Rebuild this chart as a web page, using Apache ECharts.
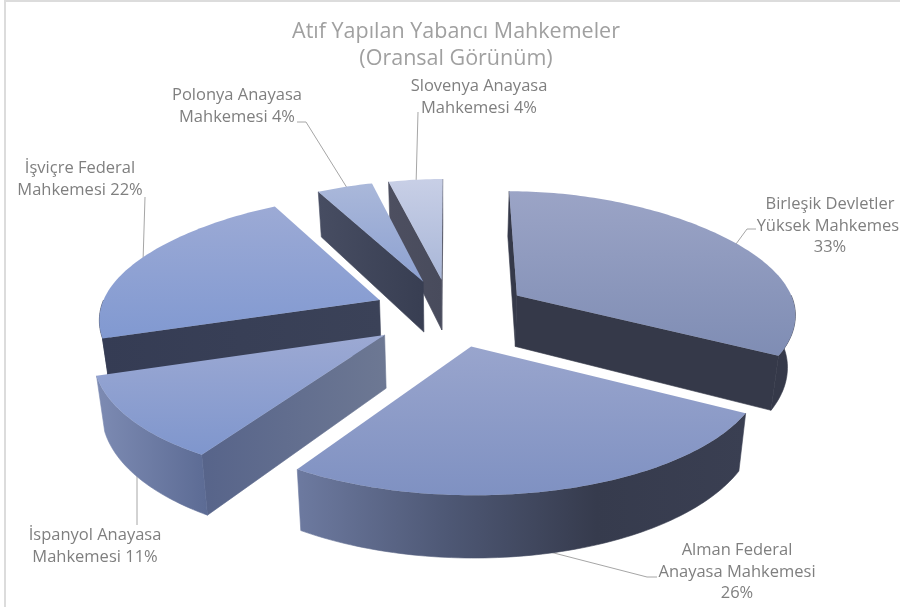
<!DOCTYPE html>
<html>
<head>
<meta charset="utf-8">
<title>Atıf Yapılan Yabancı Mahkemeler</title>
<style>
html, body { margin: 0; padding: 0; background: #fff; }
#one { width: 900px; height: 607px; }
</style>
<script src="https://cdn.jsdelivr.net/npm/echarts@6/dist/echarts.min.js"></script>
</head>
<body>
<div id="one"></div>
<script>
var courts = ['Birleşik Devletler Yüksek Mahkemesi', 'Alman Federal Anayasa Mahkemesi', 'İspanyol Anayasa Mahkemesi', 'İsviçre Federal Mahkemesi', 'Polonya Anayasa Mahkemesi', 'Slovenya Anayasa Mahkemesi'];
var shares = [33, 26, 11, 22, 4, 4];
var labelLines = [
    ['Birleşik Devletler', 'Yüksek Mahkemesi', '33%'],
    ['Alman Federal', 'Anayasa Mahkemesi', '26%'],
    ['İspanyol Anayasa', 'Mahkemesi 11%'],
    ['İşviçre Federal', 'Mahkemesi 22%'],
    ['Polonya Anayasa', 'Mahkemesi 4%'],
    ['Slovenya Anayasa', 'Mahkemesi 4%']
];

// projection of the tilted pie
var cx = 451, cy = 312.5, R = 280, thick = 52;
var explode = [78, 78, 82, 78, 78, 78];
var horizon = 908, persp = 0.135, backNarrow = 3.6, frontFlat = 173, bottomShrink = 0.977;

// label centres and leader lines, same order as courts
var labelPos = [[830, 204.5], [737, 550.5], [95, 535.5], [80, 168.5], [237, 95.5], [479, 86.5]];
var leaders = [
    [[736, 244], [747, 229], [756, 229]],
    [[550, 552], [647, 577], [657, 577]],
    [[137, 470], [137, 525]],
    [[143, 262], [145, 197]],
    [[349, 191], [306, 122], [297, 122]],
    [[416, 186], [418, 112]]
];

// colours: top face, radial wall, rim wall
var topColors = [
    ['#9ba4c6', '#7f8db4'], ['#99a5cd', '#7f91c2'], ['#9ca9d3', '#7f96cd'],
    ['#9caad5', '#8199d1'], ['#aab8da', '#8da1d1'], ['#c8cfe6', '#a9b7d8']
];
var wallColors = [
    ['#353949', '#353949'], ['#4a5470', '#4a5470'], ['#57648a', '#6d7893'],
    ['#353c54', '#3b4258'], ['#474d62', '#383e52'], ['#4d4f60', '#484b5c']
];
var rimColors = [
    ['#353949', '#353949'], ['#6d7aa0', '#4e5875', '#363b4d', '#3a3f52'], ['#7d8bb3', '#5c6b94'],
    ['#353c54', '#353c54'], ['#4a5068', '#4a5068'], ['#4d4f60', '#4d4f60']
];

var total = shares.reduce(function (a, b) { return a + b; }, 0);

function sliceAngles(idx) {
    var before = 0;
    for (var i = 0; i < idx; i++) before += shares[i];
    return [before / total * Math.PI * 2, (before + shares[idx]) / total * Math.PI * 2];
}

// r, a polar on the pie plate, level 0 = top face, 1 = bottom face
function project(idx, r, a, mid, level) {
    var ex = explode[idx] * Math.sin(mid);
    var back = r * Math.cos(a) + explode[idx] * Math.cos(mid);
    var w = 1 + back / R * persp;
    var t = w - 1;
    var rx = r * Math.sin(a);
    var sx = (ex + (t > 0 ? rx / (1 + backNarrow * t * t) : rx)) / w;
    var sy = cy + horizon * (1 / w - 1) - (t < 0 ? frontFlat * t * t : 0);
    if (level) {
        sx = sx * bottomShrink;
        sy = sy + thick / w;
    }
    return [cx + sx, sy];
}

function arcPoints(idx, a0, a1, mid, level) {
    var pts = [];
    var n = Math.max(2, Math.ceil((a1 - a0) / 0.02));
    for (var i = 0; i <= n; i++) {
        pts.push(project(idx, R, a0 + (a1 - a0) * i / n, mid, level));
    }
    return pts;
}

function stops(c) {
    return c.map(function (col, i) { return { offset: i / (c.length - 1), color: col }; });
}
function hGrad(c) {
    return new echarts.graphic.LinearGradient(0, 0, 1, 0, stops(c));
}
function vGrad(c) {
    return new echarts.graphic.LinearGradient(0, 0, 0, 1, stops(c));
}
function poly(points, fill, seam) {
    return {
        type: 'polygon',
        shape: { points: points },
        style: { fill: fill, stroke: seam ? fill : null, lineWidth: seam ? 0.6 : 0 }
    };
}

// a radial wall shows only if the thickness falls away from the top face
function radialWall(idx, a, other, mid, fill) {
    var p0 = project(idx, 0, a, mid, 0), p1 = project(idx, R, a, mid, 0);
    var b0 = project(idx, 0, a, mid, 1), b1 = project(idx, R, a, mid, 1);
    var inner = project(idx, R * 0.7, (a + other) / 2, mid, 0);
    var ex = p1[0] - p0[0], ey = p1[1] - p0[1];
    var c1 = ex * (b0[1] - p0[1]) - ey * (b0[0] - p0[0]);
    var c2 = ex * (inner[1] - p0[1]) - ey * (inner[0] - p0[0]);
    if (c1 * c2 >= 0) return null;
    return poly([p0, p1, b1, b0], fill, true);
}

function renderSlice(params, api) {
    var idx = api.value(0);
    var ang = sliceAngles(idx);
    var a0 = ang[0], a1 = ang[1], mid = (a0 + a1) / 2;
    var children = [];

    var w0 = radialWall(idx, a0, a1, mid, hGrad(wallColors[idx]));
    var w1 = radialWall(idx, a1, a0, mid, hGrad(wallColors[idx]));
    if (w0) children.push(w0);
    if (w1) children.push(w1);

    // outer rim, only the part turned to the viewer
    var r0 = Math.max(a0, Math.PI / 2), r1 = Math.min(a1, Math.PI * 1.5);
    if (r1 > r0) {
        var rimTop = arcPoints(idx, r0, r1, mid, 0);
        var rimBottom = arcPoints(idx, r0, r1, mid, 1).reverse();
        children.push(poly(rimTop.concat(rimBottom), hGrad(rimColors[idx]), true));
    }

    var face = [project(idx, 0, a0, mid, 0)].concat(arcPoints(idx, a0, a1, mid, 0));
    children.push(poly(face, vGrad(topColors[idx])));

    return { type: 'group', children: children };
}

function renderLabel(params, api) {
    var idx = api.value(0);
    var children = [{
        type: 'polyline',
        shape: { points: leaders[idx] },
        style: { stroke: '#a6a6a6', lineWidth: 1, fill: null }
    }];
    labelLines[idx].forEach(function (line, i) {
        children.push({
            type: 'text',
            style: {
                text: line,
                x: labelPos[idx][0],
                y: labelPos[idx][1] + i * 21.5,
                align: 'center',
                verticalAlign: 'middle',
                fontFamily: 'Open Sans',
                fontSize: 16.5,
                fill: '#7f7f7f'
            }
        });
    });
    return { type: 'group', children: children };
}

// back slices are painted first
var paintOrder = shares.map(function (v, i) { return i; }).sort(function (p, q) {
    var ap = sliceAngles(p), aq = sliceAngles(q);
    return Math.cos((aq[0] + aq[1]) / 2) - Math.cos((ap[0] + ap[1]) / 2);
});

var myChart = echarts.init(document.getElementById('one'));
var option = {
    animation: false,
    backgroundColor: '#fff',
    title: {
        text: 'Atıf Yapılan Yabancı Mahkemeler\n(Oransal Görünüm)',
        left: 451,
        top: 13,
        textAlign: 'center',
        textStyle: {
            fontFamily: 'Open Sans',
            fontSize: 21.5,
            fontWeight: 'normal',
            lineHeight: 27,
            color: '#a0a0a0'
        }
    },
    graphic: [{
        type: 'rect',
        silent: true,
        shape: { x: 5, y: 1, width: 900, height: 700 },
        style: { fill: null, stroke: '#dcdcdc', lineWidth: 2 }
    }],
    series: [
        {
            type: 'custom',
            name: 'etiketler',
            coordinateSystem: 'none',
            silent: true,
            z: 1,
            renderItem: renderLabel,
            data: courts.map(function (c, i) { return { name: c, value: [i, shares[i]] }; })
        },
        {
            type: 'custom',
            name: 'mahkemeler',
            coordinateSystem: 'none',
            silent: true,
            z: 2,
            renderItem: renderSlice,
            data: paintOrder.map(function (i) { return { name: courts[i], value: [i, shares[i]] }; })
        }
    ]
};
myChart.setOption(option);
</script>
</body>
</html>
